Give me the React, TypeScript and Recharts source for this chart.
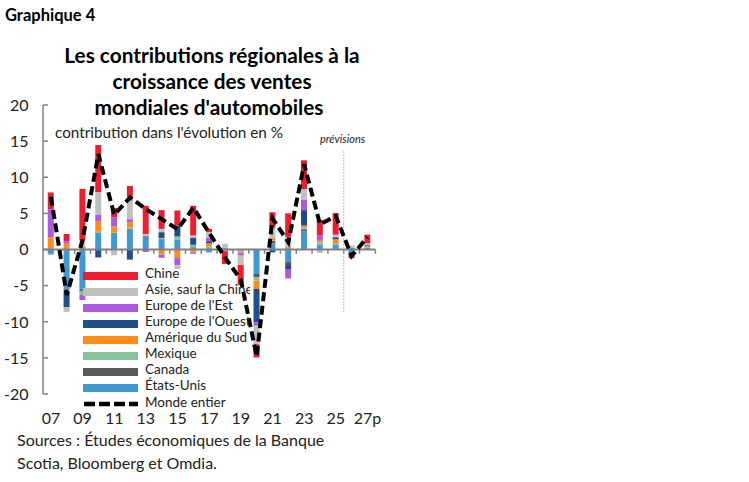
import React from 'react';
import { ComposedChart, Bar, Line, XAxis, YAxis, ReferenceLine } from 'recharts';

// Contributions to world auto sales growth, percentage points (2026-27 = forecast)
const YEARS = ['07', '08', '09', '10', '11', '12', '13', '14', '15', '16', '17', '18', '19', '20', '21', '22', '23', '24', '25', '26p', '27p'];

const CHINE = [2.3, 1.0, 7.1, 6.5, 1.3, 1.5, 3.9, 2.6, 2.1, 4.1, 0.45, -1.7, -2.8, -1.85, 2.1, 3.25, 4.0, 2.1, 3.0, -0.5, 1.2];
const ASIE = [0, -0.7, 0.9, 3.1, -0.8, 3.1, 0.1, 0.45, -0.5, 0.3, 0.8, 0.6, -1.3, -2.55, 1.4, 1.4, 1.5, -0.5, 0.3, 0.35, 0.2];
const EUR_EST = [3.9, 0.35, -0.7, 0.9, 1.25, 0.4, -0.35, -0.45, -1.0, -0.2, 0.45, 0.1, -0.3, -0.45, 0.1, -1.3, 1.4, 0.7, 0.05, 0, 0.05];
const EUR_OUEST = [0, -2.2, 0.1, -1.1, 0, -1.4, 0, 0.8, 1.5, 1.0, 0.3, -0.1, -0.1, -4.65, -0.4, -0.55, 2.15, 0.05, 0.3, 0.1, 0.1];
const AM_SUD = [1.7, 0.8, 0.3, 1.5, 0.8, 0.8, 0.1, -0.7, -1.2, -0.4, 0.45, 0.1, -0.2, -1.15, 0.3, 0.3, 0.3, 0.25, 0.6, 0.05, 0.15];
const MEXIQUE = [-0.15, -0.15, -0.5, 0.1, 0.1, 0.15, 0.1, 0.1, 0.4, 0.35, 0.35, -0.1, -0.1, -0.45, 0.05, 0.05, 0.2, 0.3, 0.1, 0.05, 0.1];
const CANADA = [0, -0.1, -0.3, 0.15, 0.1, 0.1, 0.1, 0.1, 0.05, 0.1, 0.05, -0.1, -0.05, -0.45, 0.35, -0.45, 0.3, 0.1, 0.1, 0, 0.05];
const ETATS_UNIS = [-0.6, -5.5, -5.5, 2.2, 2.2, 2.75, 1.75, 1.4, 1.35, 0.2, -0.4, 0, -0.1, -3.4, 0.85, -1.7, 2.5, 0.6, 0.6, -0.7, 0.2];
const MONDE = [7.3, -6.3, 1.3, 13.2, 4.8, 7.2, 5.6, 4.2, 2.8, 5.8, 2.3, -1.1, -4.2, -14.8, 4.3, 1.0, 11.8, 3.5, 4.6, -0.9, 1.7];

const Y_TICKS = [-20, -15, -10, -5, 0, 5, 10, 15, 20];
const FORECAST_START = 19; // boundary before 26p

// stacking order, bottom first
const SERIES = [
  { key: 'us', name: 'États-Unis', color: '#3f9ad3', values: ETATS_UNIS },
  { key: 'ca', name: 'Canada', color: '#5a5a5a', values: CANADA },
  { key: 'mx', name: 'Mexique', color: '#86c29c', values: MEXIQUE },
  { key: 'sa', name: 'Amérique du Sud', color: '#ff8c1a', values: AM_SUD },
  { key: 'we', name: "Europe de l'Ouest", color: '#1f4e89', values: EUR_OUEST },
  { key: 'ee', name: "Europe de l'Est", color: '#ad5bde', values: EUR_EST },
  { key: 'as', name: 'Asie, sauf la Chine', color: '#c0c0c0', values: ASIE },
  { key: 'cn', name: 'Chine', color: '#ee1d31', values: CHINE },
];

const rows = YEARS.map((label, i) => {
  const r: Record<string, number | string> = { label, idx: i, world: MONDE[i] };
  SERIES.forEach(s => { r[s.key] = s.values[i]; });
  return r;
});

const AXIS = '#808080';
const INK = '#222';

function YTick(props: any) {
  const { x, y, payload } = props;
  return (
    <g>
      <line x1={x} x2={x + 5} y1={y} y2={y} stroke={AXIS} strokeWidth={1.5} />
      <text x={x - 14.5} y={y} dy="0.36em" textAnchor="end" fontSize={16} fill={INK}>{payload.value}</text>
    </g>
  );
}

export default function App() {
  const legendItems = [...SERIES].reverse();
  return (
    <div style={{ position: 'fixed', left: 0, top: 0, width: 749, height: 482, background: '#fff', fontFamily: 'Lato, sans-serif' }}>
      <ComposedChart
        width={749} height={482} data={rows}
        stackOffset="sign" barCategoryGap="30%"
        margin={{ top: 105, right: 373.6, bottom: 58, left: 0 }}
      >
        <XAxis dataKey="label" interval={1} axisLine={false} tickLine={false} tickSize={0} tickMargin={19}
          height={30} tick={{ fontSize: 16, fill: INK }} />
        <XAxis xAxisId="b" type="number" dataKey="idx" domain={[0, YEARS.length]} allowDataOverflow hide />
        <YAxis domain={[-20, 20]} ticks={Y_TICKS} width={43} tickSize={0} tickMargin={0} tickLine={false}
          axisLine={{ stroke: AXIS, strokeWidth: 1.5 }} tick={<YTick />} interval={0} />
        {SERIES.map(s => (
          <Bar key={s.key} dataKey={s.key} name={s.name} stackId="a" fill={s.color} isAnimationActive={false} />
        ))}
        <ReferenceLine y={0} stroke={AXIS} strokeWidth={2} />
        {YEARS.map((_, i) => (
          <ReferenceLine key={i} xAxisId="b" segment={[{ x: i + 1, y: 0 }, { x: i + 1, y: -0.6 }]}
            stroke={AXIS} strokeWidth={1.5} ifOverflow="visible" />
        ))}
        <ReferenceLine xAxisId="b" segment={[{ x: FORECAST_START, y: 13.6 }, { x: FORECAST_START, y: -8.8 }]}
          stroke="#a6a6a6" strokeWidth={1} strokeDasharray="1.5 1.5" ifOverflow="visible" />
        <Line dataKey="world" name="Monde entier" type="linear" stroke="#000" strokeWidth={4}
          strokeDasharray="9 4.5" dot={false} activeDot={false} isAnimationActive={false} />
      </ComposedChart>

      <svg width={749} height={482} style={{ position: 'absolute', left: 0, top: 0, pointerEvents: 'none' }}>
        <text x={5} y={21} fontSize={16.5} fontWeight={700} fill="#000">Graphique 4</text>
        <g fontSize={20.8} fontWeight={700} fill="#000" textAnchor="middle">
          <text x={212} y={63}>Les contributions régionales à la</text>
          <text x={212} y={89}>croissance des ventes</text>
          <text x={209} y={114.5}>mondiales d'automobiles</text>
        </g>
        <text x={55} y={138} fontSize={15.3} fill={INK}>contribution dans l'évolution en %</text>
        <text x={320} y={143} fontSize={11} fontStyle="italic" fill={INK}>prévisions</text>

        <defs>
          <clipPath id="legclip"><rect x={80} y={260} width={170} height={160} /></clipPath>
        </defs>
        <g clipPath="url(#legclip)">
          {legendItems.map((s, i) => (
            <g key={s.key}>
              <rect x={83} y={272 + i * 16} width={55} height={8} fill={s.color} />
              <text x={145} y={278 + i * 16} fontSize={13.5} fill={INK}>{s.name}</text>
            </g>
          ))}
          <line x1={84} x2={138} y1={404} y2={404} stroke="#000" strokeWidth={4.5} strokeDasharray="11 4" />
          <text x={145} y={407} fontSize={13.5} fill={INK}>Monde entier</text>
        </g>

        <text x={17} y={446} fontSize={16} fill={INK}>Sources : Études économiques  de la Banque</text>
        <text x={17} y={469} fontSize={16} fill={INK}>Scotia, Bloomberg et Omdia.</text>
      </svg>
    </div>
  );
}
